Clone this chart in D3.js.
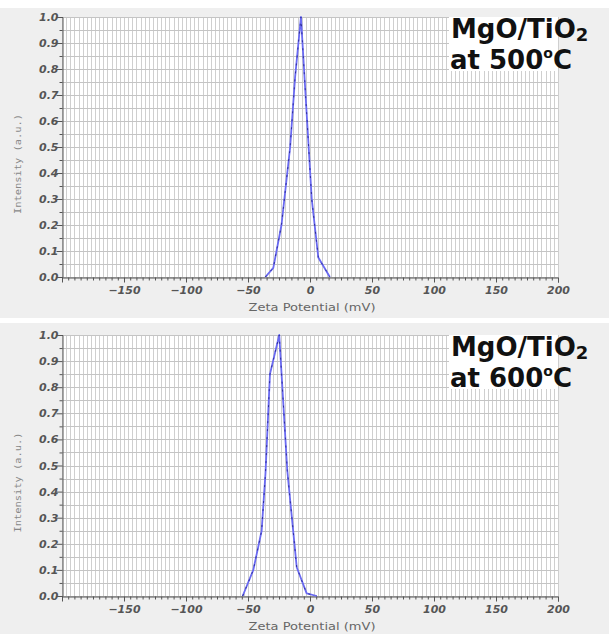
<!DOCTYPE html>
<html>
<head>
<meta charset="utf-8">
<script src="https://cdn.jsdelivr.net/npm/d3@7/dist/d3.min.js"></script>
<style>
  html, body { margin: 0; padding: 0; background: #ffffff; }
  svg { display: block; }
</style>
</head>
<body>
<svg id="chart" width="609" height="634"></svg>
<script>
// ---- data ----
const xTickValues = [-150, -100, -50, 0, 50, 100, 150, 200];
const yTickValues = [0.0, 0.1, 0.2, 0.3, 0.4, 0.5, 0.6, 0.7, 0.8, 0.9, 1.0];
const xLabel = "Zeta Potential (mV)";
const yLabel = "Intensity (a.u.)";

const zeta500 = [-36, -29.6, -23, -16, -12, -7.3, 1.4, 6.7, 16];
const intensity500 = [0, 0.035, 0.2, 0.5, 0.77, 1.0, 0.3, 0.075, 0];

const zeta600 = [-54.3, -45.7, -39, -35.9, -32.3, -24.8, -18.3, -10.7, -2.7, 5.4];
const intensity600 = [0, 0.1, 0.25, 0.47, 0.85, 1.0, 0.48, 0.11, 0.01, 0];

const panelTitles = [
  { line1: "MgO/TiO", sub: "2", temp: "at 500", unit: "C" },
  { line1: "MgO/TiO", sub: "2", temp: "at 600", unit: "C" }
];

// ---- layout ----
const svg = d3.select("#chart");
const panels = [
  { bgTop: 8, bgBottom: 318, plotTop: 17, plotBottom: 277, xs: zeta500, ys: intensity500, title: panelTitles[0] },
  { bgTop: 323, bgBottom: 634, plotTop: 335, plotBottom: 596, xs: zeta600, ys: intensity600, title: panelTitles[1] }
];
const plotLeft = 62, plotRight = 558;

panels.forEach(p => {
  const g = svg.append("g");
  g.append("rect").attr("x", 0).attr("y", p.bgTop).attr("width", 609)
    .attr("height", p.bgBottom - p.bgTop).attr("fill", "#efefef");

  const x = d3.scaleLinear().domain([-200, 200]).range([plotLeft, plotRight]);
  const y = d3.scaleLinear().domain([0, 1]).range([p.plotBottom, p.plotTop]);

  g.append("rect").attr("x", plotLeft).attr("y", p.plotTop)
    .attr("width", plotRight - plotLeft).attr("height", p.plotBottom - p.plotTop)
    .attr("fill", "#ffffff");

  // vertical grid
  const vGrid = d3.range(-200, 200.001, 10 / 3);
  g.append("g").selectAll("line").data(vGrid).join("line")
    .attr("x1", d => Math.round(x(d)) + 0.5).attr("x2", d => Math.round(x(d)) + 0.5)
    .attr("y1", p.plotTop).attr("y2", p.plotBottom)
    .attr("stroke", "#cfcfcf").attr("stroke-width", 1);

  // horizontal grid
  const hGrid = d3.range(0, 1.0001, 0.05);
  g.append("g").selectAll("line").data(hGrid).join("line")
    .attr("x1", plotLeft).attr("x2", plotRight)
    .attr("y1", d => Math.round(y(d)) + 0.5).attr("y2", d => Math.round(y(d)) + 0.5)
    .attr("stroke", "#c4c4c4").attr("stroke-width", 1);

  // title box
  g.append("rect").attr("x", 449).attr("y", p.plotTop)
    .attr("width", plotRight - 449).attr("height", 54).attr("fill", "#ffffff");

  // axes
  const yAxis = d3.axisLeft(y).tickValues(yTickValues).tickSize(6).tickPadding(-2)
    .tickFormat(d3.format(".1f"));
  const yg = g.append("g").attr("transform", `translate(${plotLeft + 0.5},0)`).call(yAxis);
  yg.select(".domain").attr("stroke", "#555");
  yg.selectAll(".tick line").attr("stroke", "#555");
  yg.selectAll("text").attr("font-family", "DejaVu Sans").attr("font-weight", "bold")
    .attr("font-style", "italic").attr("font-size", 11).attr("fill", "#555");

  const yMinor = d3.axisLeft(y).tickValues(d3.range(0.05, 1, 0.1)).tickSize(3).tickFormat("");
  const ymg = g.append("g").attr("transform", `translate(${plotLeft + 0.5},0)`).call(yMinor);
  ymg.select(".domain").remove();
  ymg.selectAll(".tick line").attr("stroke", "#555");

  const xAxis = d3.axisBottom(x).tickValues(xTickValues).tickSize(5).tickPadding(4)
    .tickFormat(d3.format("d"));
  const xg = g.append("g").attr("transform", `translate(0,${p.plotBottom + 0.5})`).call(xAxis);
  xg.select(".domain").attr("stroke", "#555");
  xg.selectAll(".tick line").attr("stroke", "#555");
  xg.selectAll("text").attr("font-family", "DejaVu Sans").attr("font-weight", "bold")
    .attr("font-style", "italic").attr("font-size", 11).attr("fill", "#555");

  const xMinor = d3.axisBottom(x).tickValues(d3.range(-195, 200, 5).filter(v => v % 50 !== 0))
    .tickSize(3).tickFormat("");
  const xmg = g.append("g").attr("transform", `translate(0,${p.plotBottom + 0.5})`).call(xMinor);
  xmg.select(".domain").remove();
  xmg.selectAll(".tick line").attr("stroke", "#555");

  // axis titles
  g.append("text").attr("x", (plotLeft + plotRight) / 2 + 2).attr("y", p.plotBottom + 34)
    .attr("text-anchor", "middle").attr("font-family", "DejaVu Sans").attr("font-size", 10)
    .attr("fill", "#666").attr("textLength", 127).attr("lengthAdjust", "spacingAndGlyphs")
    .text(xLabel);
  g.append("text")
    .attr("transform", `translate(21,${(p.plotTop + p.plotBottom) / 2 + 17}) rotate(-90)`)
    .attr("text-anchor", "middle").attr("font-family", "DejaVu Sans Mono").attr("font-size", 9)
    .attr("fill", "#888").attr("textLength", 100).attr("lengthAdjust", "spacingAndGlyphs")
    .text(yLabel);

  // curve
  const pts = p.xs.map((v, i) => [v, p.ys[i]]);
  const line = d3.line().x(d => x(d[0])).y(d => y(d[1]));
  g.append("path").datum(pts).attr("d", line).attr("fill", "none")
    .attr("stroke", "#6a6af2").attr("stroke-width", 1.8).attr("stroke-linejoin", "round");
  g.append("path").datum(pts).attr("d", line).attr("fill", "none")
    .attr("stroke", "#2e2e9a").attr("stroke-width", 1).attr("stroke-dasharray", "2,6");

  // panel title
  const t1 = g.append("text").attr("x", 451).attr("y", p.plotTop + 21)
    .attr("font-family", "DejaVu Sans").attr("font-weight", "bold").attr("font-size", 26)
    .attr("fill", "#111");
  t1.append("tspan").text(p.title.line1);
  t1.append("tspan").attr("font-size", 18).attr("dy", 3).text(p.title.sub);

  const t2 = g.append("text").attr("x", 450).attr("y", p.plotTop + 52)
    .attr("font-family", "DejaVu Sans").attr("font-weight", "bold").attr("font-size", 26)
    .attr("fill", "#111");
  t2.append("tspan").text(p.title.temp);
  t2.append("tspan").attr("font-size", 14).attr("dy", -11).text("o");
  t2.append("tspan").attr("dy", 11).text(p.title.unit);
});
</script>
</body>
</html>
